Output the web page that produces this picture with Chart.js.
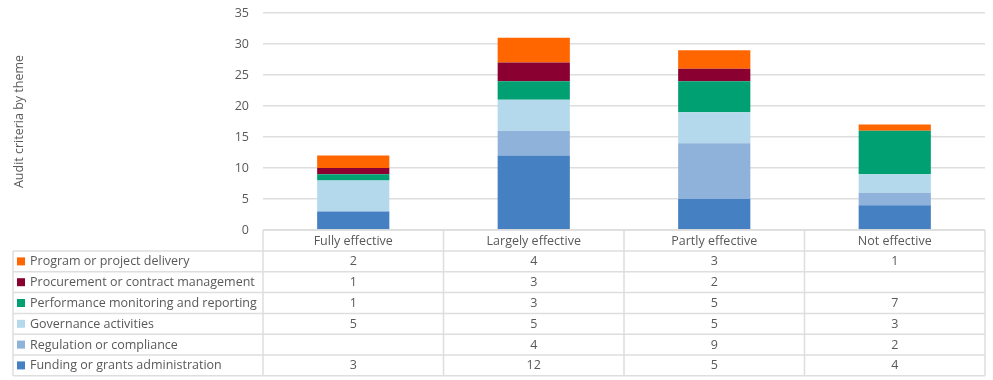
<!DOCTYPE html>
<html>
<head>
<meta charset="utf-8">
<script src="https://cdn.jsdelivr.net/npm/chart.js@4.4.0/dist/chart.umd.min.js"></script>
<style>
  html, body { margin: 0; padding: 0; background: #fff; }
  #wrap { width: 993px; height: 380px; }
</style>
</head>
<body>
<div id="wrap"><canvas id="myChart" width="993" height="380"></canvas></div>
<script>
// categories along the x axis
const categories = ['Fully effective', 'Largely effective', 'Partly effective', 'Not effective'];

// series, bottom of the stack first
const funding     = [3, 12, 5, 4];
const regulation  = [null, 4, 9, 2];
const governance  = [5, 5, 5, 3];
const performance = [1, 3, 5, 7];
const procurement = [1, 3, 2, null];
const program     = [2, 4, 3, 1];

const seriesNames = [
    'Funding or grants administration',
    'Regulation or compliance',
    'Governance activities',
    'Performance monitoring and reporting',
    'Procurement or contract management',
    'Program or project delivery'
];
const seriesColors = ['#4580c2', '#8fb2da', '#b4d9ec', '#00a073', '#8a0030', '#ff6600'];

const yTicks = [0, 5, 10, 15, 20, 25, 30, 35];

const FONT = "'Open Sans', sans-serif";
const TEXT = '#595959';
const LINE = '#dedede';
const ROW_H = 20.8;

const allSeries = [funding, regulation, governance, performance, procurement, program];

// _________________________data table under the plot______________________________
const tablePlugin = {
    id: 'dataTable',
    afterDraw(chart) {
        const ctx = chart.ctx;
        const x = chart.scales.x;
        const area = chart.chartArea;
        const top = x.bottom;            // first row starts under the category labels
        const left = 13;
        const n = categories.length;
        const step = (area.right - area.left) / n;

        ctx.save();
        ctx.strokeStyle = LINE;
        ctx.lineWidth = 1.5;
        ctx.beginPath();
        // axis line / header top
        ctx.moveTo(area.left, area.bottom);
        ctx.lineTo(area.right, area.bottom);
        for (let r = 0; r <= allSeries.length; r++) {
            let yy = top + r * ROW_H;
            ctx.moveTo(left, yy);
            ctx.lineTo(area.right, yy);
        }
        let bottom = top + allSeries.length * ROW_H;
        ctx.moveTo(left, top);
        ctx.lineTo(left, bottom);
        for (let c = 0; c <= n; c++) {
            let xx = area.left + c * step;
            ctx.moveTo(xx, area.bottom);
            ctx.lineTo(xx, bottom);
        }
        ctx.stroke();

        ctx.font = '12.5px ' + FONT;
        ctx.textBaseline = 'middle';
        for (let r = 0; r < allSeries.length; r++) {
            let si = allSeries.length - 1 - r;   // top row is the top of the stack
            let cy = top + r * ROW_H + ROW_H / 2;
            ctx.fillStyle = seriesColors[si];
            ctx.fillRect(17, cy - 4, 8, 8);
            ctx.fillStyle = TEXT;
            ctx.textAlign = 'left';
            ctx.fillText(seriesNames[si], 30, cy + 0.5);
            ctx.textAlign = 'center';
            for (let c = 0; c < n; c++) {
                let v = allSeries[si][c];
                if (v == null) continue;
                ctx.fillText(String(v), x.getPixelForValue(c), cy + 0.5);
            }
        }
        ctx.restore();
    }
};

const datasets = allSeries.map((d, i) => ({
    label: seriesNames[i],
    data: d,
    backgroundColor: seriesColors[i],
    borderWidth: 0,
    categoryPercentage: 1,
    barPercentage: 0.4
}));

const config = {
    type: 'bar',
    data: { labels: categories, datasets: datasets },
    options: {
        responsive: false,
        animation: false,
        layout: { padding: { top: 13, right: 8, bottom: 380 - 251, left: 0 } },
        plugins: {
            legend: { display: false },
            tooltip: { enabled: false }
        },
        scales: {
            x: {
                stacked: true,
                grid: { display: false, drawTicks: false },
                border: { display: false },
                ticks: { color: TEXT, font: { family: FONT, size: 12.5 }, padding: 4 },
                afterFit(scale) { scale.height = 21; }
            },
            y: {
                stacked: true,
                min: 0,
                max: 35,
                afterBuildTicks(scale) { scale.ticks = yTicks.map(v => ({ value: v })); },
                grid: { color: LINE, lineWidth: 1.5, drawTicks: true, tickLength: 14, tickColor: 'rgba(0,0,0,0)' },
                border: { display: false },
                ticks: { color: TEXT, font: { family: FONT, size: 12.5 }, padding: 0 },
                title: {
                    display: true,
                    text: 'Audit criteria by theme',
                    color: TEXT,
                    font: { family: FONT, size: 12.5 },
                    padding: { top: 12, bottom: 0 }
                },
                afterFit(scale) { scale.width = 263; }
            }
        }
    },
    plugins: [tablePlugin]
};

let chart = new Chart(document.getElementById('myChart'), config);
</script>
</body>
</html>
